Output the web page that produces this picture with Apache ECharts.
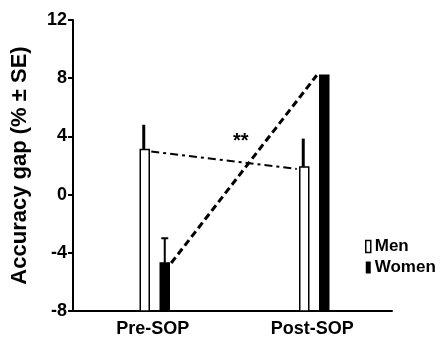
<!DOCTYPE html>
<html>
<head>
<meta charset="utf-8">
<script src="https://cdn.jsdelivr.net/npm/echarts@6/dist/echarts.min.js"></script>
<style>html,body{margin:0;padding:0;background:#fff;}#c{width:446px;height:345px;}</style>
</head>
<body>
<div id="c"></div>
<script>
const categories = ['Pre-SOP', 'Post-SOP'];
const menValues = [3.1, 1.9];
const menSE = [1.7, 1.95];
const womenValues = [-4.7, 8.2];
const womenSE = [1.7, 0];
const yTicks = [-8, -4, 0, 4, 8, 12];
const annotation = '**';

const FONT = '"Liberation Sans", Arial, sans-serif';
const yMin = yTicks[0], yMax = yTicks[yTicks.length - 1];
const barW = 9;
const menOffset = -8, womenOffset = 12;

const chart = echarts.init(document.getElementById('c'));

function barRender(offset, fill) {
  return function (params, api) {
    const idx = api.value(0), v = api.value(1);
    const top = api.coord([idx, v]);
    const base = api.coord([idx, yMin]);
    const cx = top[0] + offset;
    return {
      type: 'rect',
      shape: { x: cx - barW / 2, y: top[1], width: barW, height: base[1] - top[1] },
      style: { fill: fill, stroke: '#000', lineWidth: 1.5 }
    };
  };
}

function errRender(offset, thick, cap) {
  return function (params, api) {
    const idx = api.value(0), v = api.value(1), se = api.value(2);
    if (!se) return { type: 'group', children: [] };
    const top = api.coord([idx, v]);
    const end = api.coord([idx, v + se]);
    const cx = top[0] + offset;
    const children = [{
      type: 'line',
      shape: { x1: cx, y1: top[1], x2: cx, y2: end[1] },
      style: { stroke: '#000', lineWidth: thick }
    }];
    if (cap) {
      children.push({
        type: 'line',
        shape: { x1: cx - cap / 2, y1: end[1], x2: cx + cap / 2, y2: end[1] },
        style: { stroke: '#000', lineWidth: 2 }
      });
    }
    return { type: 'group', children: children };
  };
}

function connRender(offset, dash, width, dy) {
  return function (params, api) {
    if (params.dataIndex !== 0) return { type: 'group', children: [] };
    const a = api.coord([0, api.value(1, 0)]);
    const b = api.coord([1, api.value(1, 1)]);
    return {
      type: 'line',
      shape: { x1: a[0] + offset + barW / 2 + 2, y1: a[1] + dy, x2: b[0] + offset - barW / 2 - 3, y2: b[1] + dy },
      style: { stroke: '#000', lineWidth: width, lineDash: dash }
    };
  };
}

const menData = categories.map((c, i) => [i, menValues[i], menSE[i]]);
const womenData = categories.map((c, i) => [i, womenValues[i], womenSE[i]]);

chart.setOption({
  animation: false,
  textStyle: { fontFamily: FONT },
  grid: { left: 73, right: 54, top: 20, bottom: 34 },
  legend: {
    orient: 'vertical',
    left: 360, top: 233,
    itemWidth: 5, itemHeight: 12, itemGap: 4,
    textStyle: { fontFamily: FONT, fontWeight: 'bold', fontSize: 17, color: '#000', padding: [0, 0, 0, -1] },
    data: [
      { name: 'Men', icon: 'rect', itemStyle: { color: '#fff', borderColor: '#000', borderWidth: 1.5 } },
      { name: 'Women', icon: 'rect', itemStyle: { color: '#000', borderColor: '#000', borderWidth: 0 } }
    ]
  },
  xAxis: {
    type: 'category',
    data: categories,
    boundaryGap: true,
    axisLine: { onZero: false, lineStyle: { color: '#000', width: 2 } },
    axisTick: { alignWithLabel: true, length: 4, lineStyle: { color: '#000', width: 2 } },
    axisLabel: { color: '#000', fontWeight: 'bold', fontSize: 18, fontFamily: FONT, margin: 9 }
  },
  yAxis: {
    type: 'value',
    min: yMin, max: yMax, interval: 4,
    name: 'Accuracy gap (% ± SE)',
    nameLocation: 'middle',
    nameRotate: 90,
    nameGap: 42,
    nameTextStyle: { color: '#000', fontWeight: 'bold', fontSize: 22, fontFamily: FONT },
    splitLine: { show: false },
    axisLine: { show: true, lineStyle: { color: '#000', width: 2 } },
    axisTick: { show: true, length: 5, lineStyle: { color: '#000', width: 2 } },
    axisLabel: { color: '#000', fontWeight: 'bold', fontSize: 18, fontFamily: FONT, margin: 6 }
  },
  series: [
    { name: 'Men', type: 'custom', data: menData, renderItem: barRender(menOffset, '#fff'), z: 2, itemStyle: { color: '#fff' } },
    { name: 'Women', type: 'custom', data: womenData, renderItem: barRender(womenOffset, '#000'), z: 2, itemStyle: { color: '#000' } },
    { name: 'MenErr', type: 'custom', data: menData, renderItem: errRender(menOffset - 1, 3, 0), z: 3 },
    { name: 'WomenErr', type: 'custom', data: womenData, renderItem: errRender(womenOffset, 2, 7), z: 3 },
    { name: 'MenLine', type: 'custom', data: menData, renderItem: connRender(menOffset, [8, 4, 3, 4], 2, 2), z: 4 },
    { name: 'WomenLine', type: 'custom', data: womenData, renderItem: connRender(womenOffset, [7, 4], 3, 0), z: 4 }
  ],
  graphic: [{
    type: 'text', left: 233, top: 131,
    style: { text: annotation, fill: '#000', font: 'bold 20px ' + FONT }
  }]
});
</script>
</body>
</html>
